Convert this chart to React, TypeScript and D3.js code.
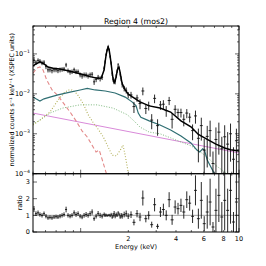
import React, { useEffect, useRef } from 'react'
import * as d3 from 'd3'

// spectrum bins (keV) and data
const energy = [
  0.507, 0.522, 0.538, 0.553, 0.57, 0.587, 0.604, 0.622, 0.64, 0.659, 0.679, 0.699, 0.719, 0.741, 0.763, 0.785, 0.809,
  0.832, 0.857, 0.882, 0.909, 0.935, 0.963, 0.992, 1.021, 1.051, 1.082, 1.114, 1.147, 1.181, 1.216, 1.252, 1.289, 1.327,
  1.366, 1.407, 1.427, 1.448, 1.469, 1.491, 1.513, 1.535, 1.558, 1.581, 1.604, 1.627, 1.651, 1.676, 1.7, 1.725, 1.75,
  1.776, 1.802, 1.829,
  1.883, 1.939, 1.996, 2.08, 2.17, 2.27, 2.37, 2.47, 2.58, 2.69, 2.81, 2.93, 3.06, 3.19, 3.33, 3.47, 3.62, 3.78, 3.95,
  4.12, 4.3, 4.48, 4.68, 4.88, 5.09, 5.31, 5.54, 5.78, 6.03, 6.3, 6.57, 6.85, 7.15, 7.46, 7.79, 8.12, 8.48, 8.84, 9.23,
  9.63,
]
const counts = [
  0.069, 0.062, 0.069, 0.066, 0.06, 0.062, 0.048, 0.04, 0.04, 0.038, 0.04, 0.04, 0.038, 0.04, 0.041, 0.042, 0.053,
  0.038, 0.035, 0.036, 0.04, 0.036, 0.036, 0.03, 0.028, 0.03, 0.03, 0.028, 0.03, 0.031, 0.02, 0.023, 0.026, 0.024,
  0.026, 0.044, 0.063, 0.096, 0.123, 0.15, 0.128, 0.085, 0.059, 0.032, 0.023, 0.021, 0.02, 0.028, 0.037, 0.054, 0.046,
  0.031, 0.024, 0.017,
  0.0137, 0.0123, 0.0094, 0.0094, 0.0048, 0.0079, 0.0057, 0.0118, 0.0043, 0.0051, 0.0022, 0.0077, 0.0016, 0.0053,
  0.0055, 0.0038, 0.0068, 0.0023, 0.0041, 0.0034, 0.0034, 0.0023, 0.0033, 0.0026, 0.0012, 0.0028, 0.00077, 0.0016,
  0.00039, 0.00086, 0.0012, 0.00018, 0.00072, 0.0011, 0.00042, 0.00084, 0.00055, 0.001, 0.00023, 0.00067,
]
const ratio = [
  1.38, 1.1, 1.15, 1.05, 1.0, 1.1, 0.95, 0.85, 0.88, 0.85, 0.9, 0.92, 0.9, 0.95, 1.0, 1.05, 1.35, 1.0, 0.95, 1.0, 1.15,
  1.05, 1.1, 0.95, 0.9, 1.0, 1.05, 1.0, 1.1, 1.2, 0.8, 0.95, 1.1, 1.0,
  0.95, 1.05, 1.0, 1.02, 0.98, 1.0, 1.02, 0.97, 1.05, 0.9, 1.0, 1.1, 0.95, 1.05, 1.0, 1.15, 1.05, 0.9, 1.0, 0.95,
  1.05, 1.1, 0.95, 1.04, 0.58, 1.1, 0.9, 2.04, 0.8, 1.0, 0.44, 1.64, 0.34, 1.2, 1.35, 1.0, 1.94, 0.73, 1.5, 1.4, 1.6,
  1.2, 1.94, 1.73, 0.94, 2.5, 0.8, 1.9, 0.5, 1.2, 1.8, 0.3, 1.3, 2.2, 0.9, 1.9, 1.3, 2.5, 0.6, 1.8,
]
const ratioErr = [
  0.18, 0.14, 0.14, 0.13, 0.13, 0.13, 0.13, 0.12, 0.12, 0.12, 0.12, 0.12, 0.12, 0.13, 0.13, 0.13, 0.17, 0.13, 0.13,
  0.13, 0.15, 0.14, 0.14, 0.13, 0.13, 0.14, 0.15, 0.14, 0.15, 0.16, 0.13, 0.14, 0.16, 0.15,
  0.14, 0.12, 0.1, 0.08, 0.07, 0.06, 0.07, 0.08, 0.1, 0.11, 0.14, 0.16, 0.13, 0.12, 0.1, 0.1, 0.11, 0.11, 0.14, 0.15,
  0.17, 0.19, 0.17, 0.2, 0.18, 0.22, 0.25, 0.45, 0.22, 0.25, 0.18, 0.4, 0.15, 0.3, 0.35, 0.3, 0.45, 0.3, 0.4, 0.35,
  0.4, 0.4, 0.5, 0.45, 0.4, 0.9, 0.6, 1.1, 0.45, 1.0, 1.4, 0.3, 1.3, 1.6, 0.9, 1.8, 1.3, 2.0, 0.6, 1.8,
]

// model curves
const totalE = [
  0.5, 0.522, 0.553, 0.587, 0.622, 0.67, 0.741, 0.857, 0.992, 1.147, 1.27, 1.35, 1.407, 1.427, 1.448, 1.469, 1.491,
  1.513, 1.535, 1.558, 1.581, 1.604, 1.627, 1.651, 1.676, 1.7, 1.725, 1.75, 1.776, 1.802, 1.829, 1.91, 1.996, 2.11,
  2.37, 2.71, 3.17, 3.7, 4.3, 4.97, 5.54, 6.3, 7.15, 8.12, 8.84, 10,
]
const totalV = [
  0.05, 0.056, 0.063, 0.056, 0.047, 0.044, 0.042, 0.037, 0.032, 0.027, 0.0245, 0.025, 0.04, 0.063, 0.094, 0.126, 0.15,
  0.125, 0.088, 0.056, 0.035, 0.023, 0.019, 0.021, 0.027, 0.037, 0.047, 0.044, 0.034, 0.024, 0.018, 0.0125, 0.0099,
  0.0085, 0.0063, 0.005, 0.0044, 0.0035, 0.0021, 0.0015, 0.00096, 0.00072, 0.00055, 0.00044, 0.0004, 0.00037,
]
const tealE = [0.5, 0.522, 0.553, 0.587, 0.64, 0.719, 0.857, 0.992, 1.1, 1.234, 1.43, 1.65, 1.91, 2.11, 2.24, 2.31, 2.4, 2.71, 3.17, 3.7, 4.3, 4.97, 5.42, 5.65, 5.9, 6.05, 6.3, 6.9, 7.2]
const tealV = [0.0083, 0.0075, 0.0066, 0.0075, 0.0083, 0.0094, 0.011, 0.0125, 0.0137, 0.0125, 0.0118, 0.0105, 0.0083, 0.0063, 0.005, 0.0033, 0.0026, 0.0021, 0.00166, 0.00124, 0.00088, 0.00059, 0.00039, 0.00035, 0.00042, 0.00039, 0.00022, 0.00011, 0.00007]
const thermE = [0.5, 0.53, 0.553, 0.578, 0.61, 0.66, 0.72, 0.785, 0.857, 0.935, 1.02, 1.1, 1.18, 1.25, 1.31, 1.37, 1.45, 1.48]
const thermV = [0.033, 0.044, 0.047, 0.04, 0.0223, 0.0125, 0.0089, 0.0056, 0.0035, 0.0021, 0.00118, 0.00083, 0.00052, 0.00035, 0.00039, 0.00022, 0.000104, 0.00008]
const oliveE = [0.5, 0.553, 0.64, 0.72, 0.785, 0.832, 0.882, 0.95, 1.04, 1.11, 1.2, 1.29, 1.39, 1.49, 1.58, 1.68, 1.78, 1.85, 1.91, 2.0, 2.03]
const oliveV = [0.00166, 0.0022, 0.0035, 0.007, 0.0105, 0.0125, 0.0125, 0.0099, 0.0056, 0.0031, 0.0019, 0.0013, 0.00083, 0.00047, 0.00029, 0.00028, 0.00039, 0.00052, 0.00029, 0.000104, 0.00008]
const greenE = [0.5, 0.553, 0.64, 0.77, 0.99, 1.27, 1.6, 1.97, 2.2, 2.37, 2.71, 3.17, 3.7, 4.3, 4.97, 5.6, 6.3, 7.15, 8.12, 10]
const greenV = [0.00175, 0.0022, 0.0033, 0.0044, 0.0053, 0.0053, 0.0044, 0.003, 0.002, 0.00147, 0.0011, 0.001, 0.00079, 0.00062, 0.0005, 0.00037, 0.00026, 0.00016, 0.00011, 0.00008]
const powE = [0.5, 10]
const powV = [0.0033, 0.00033]

const xTickLabels = [2, 4, 6, 8, 10]
const ratioTicks = [0, 1, 2, 3]

export default function App() {
  const svgRef = useRef<SVGSVGElement>(null)

  useEffect(() => {
    const svg = d3.select(svgRef.current)
    svg.selectAll('*').remove()

    const width = 266
    const height = 266
    const left = 33
    const right = 239
    const top = 26
    const mid = 173.7
    const bottom = 232
    const font = 'DejaVu Sans, sans-serif'

    const x = d3.scaleLog().domain([0.5, 10]).range([left, right])
    const y = d3.scaleLog().domain([1e-4, 0.5]).range([mid, top])
    const yr = d3.scaleLinear().domain([0, 3.5]).range([bottom, mid])

    svg.attr('width', width).attr('height', height)
    svg.append('rect').attr('width', width).attr('height', height).attr('fill', '#fff')

    const defs = svg.append('defs')
    defs.append('clipPath').attr('id', 'clipTop').append('rect')
      .attr('x', left).attr('y', top).attr('width', right - left).attr('height', mid - top)
    defs.append('clipPath').attr('id', 'clipBot').append('rect')
      .attr('x', left).attr('y', mid).attr('width', right - left).attr('height', bottom - mid)

    const gTop = svg.append('g').attr('clip-path', 'url(#clipTop)')
    const gBot = svg.append('g').attr('clip-path', 'url(#clipBot)')

    // bin edges from neighbouring energies
    const lo = energy.map((e, i) => i > 0 ? Math.sqrt(e * energy[i - 1]) : e * e / Math.sqrt(e * energy[1]))
    const hi = energy.map((e, i) => i < energy.length - 1 ? Math.sqrt(e * energy[i + 1]) : e * e / Math.sqrt(e * energy[i - 1]))

    const line = (xs: number[], vs: number[]) =>
      d3.line<number>().x((_, i) => x(xs[i])).y((_, i) => y(Math.max(vs[i], 1e-6)))(vs.map((_, i) => i)) as string

    // model components
    gTop.append('path').attr('d', line(powE, powV)).attr('fill', 'none').attr('stroke', '#d98ad9').attr('stroke-width', 1)
    gTop.append('path').attr('d', line(greenE, greenV)).attr('fill', 'none').attr('stroke', '#7fb87f')
      .attr('stroke-width', 1).attr('stroke-dasharray', '1,1.6')
    gTop.append('path').attr('d', line(oliveE, oliveV)).attr('fill', 'none').attr('stroke', '#b0ae55')
      .attr('stroke-width', 1.1).attr('stroke-dasharray', '1,1.8')
    gTop.append('path').attr('d', line(thermE, thermV)).attr('fill', 'none').attr('stroke', '#e38a8a')
      .attr('stroke-width', 1.1).attr('stroke-dasharray', '4,2.5')
    gTop.append('path').attr('d', line(tealE, tealV)).attr('fill', 'none').attr('stroke', '#2f6e72').attr('stroke-width', 1.2)

    // data error bars
    energy.forEach((e, i) => {
      const v = counts[i]
      const rel = ratioErr[i] / ratio[i]
      gTop.append('line').attr('x1', x(lo[i])).attr('x2', x(hi[i])).attr('y1', y(v)).attr('y2', y(v))
        .attr('stroke', '#111').attr('stroke-width', 0.9)
      gTop.append('line').attr('x1', x(e)).attr('x2', x(e))
        .attr('y1', y(Math.max(v * (1 - rel), 1e-6))).attr('y2', y(v * (1 + rel)))
        .attr('stroke', '#111').attr('stroke-width', 0.9)
    })

    gTop.append('path').attr('d', line(totalE, totalV)).attr('fill', 'none').attr('stroke', '#000').attr('stroke-width', 1.5)

    // ratio panel
    gBot.append('line').attr('x1', left).attr('x2', right).attr('y1', yr(1)).attr('y2', yr(1))
      .attr('stroke', '#a0a0a0').attr('stroke-width', 1)
    energy.forEach((e, i) => {
      const r = ratio[i]
      gBot.append('line').attr('x1', x(lo[i])).attr('x2', x(hi[i])).attr('y1', yr(r)).attr('y2', yr(r))
        .attr('stroke', '#111').attr('stroke-width', 0.9)
      gBot.append('line').attr('x1', x(e)).attr('x2', x(e))
        .attr('y1', yr(r - ratioErr[i])).attr('y2', yr(r + ratioErr[i]))
        .attr('stroke', '#111').attr('stroke-width', 0.9)
    })

    // frames
    const axes = svg.append('g')
    ;[[top, mid], [mid, bottom]].forEach(([t, b]) => {
      axes.append('rect').attr('x', left).attr('y', t).attr('width', right - left).attr('height', b - t)
        .attr('fill', 'none').attr('stroke', '#000').attr('stroke-width', 1)
    })

    // x ticks on every horizontal edge, inward
    const xt = x.ticks()
    const isMajor = (v: number) => Math.abs(Math.log10(v) - Math.round(Math.log10(v))) < 1e-6
    ;[[top, 1], [mid, -1], [mid, 1], [bottom, -1]].forEach(([yy, dir]) => {
      xt.forEach(t => {
        const len = isMajor(t) ? 4 : 2
        axes.append('line').attr('x1', x(t)).attr('x2', x(t)).attr('y1', yy).attr('y2', yy + dir * len)
          .attr('stroke', '#000').attr('stroke-width', 0.6)
      })
    })

    // y ticks
    const yt = y.ticks()
    ;[[left, 1], [right, -1]].forEach(([xx, dir]) => {
      yt.forEach(t => {
        const len = isMajor(t) ? 4 : 2
        axes.append('line').attr('x1', xx).attr('x2', xx + dir * len).attr('y1', y(t)).attr('y2', y(t))
          .attr('stroke', '#000').attr('stroke-width', 0.6)
      })
      ratioTicks.forEach(t => {
        axes.append('line').attr('x1', xx).attr('x2', xx + dir * 4).attr('y1', yr(t)).attr('y2', yr(t))
          .attr('stroke', '#000').attr('stroke-width', 0.6)
      })
    })

    // tick labels
    yt.filter(isMajor).forEach(t => {
      const txt = axes.append('text').attr('x', left - 3).attr('y', y(t) + 2.2).attr('text-anchor', 'end')
        .style('font-family', font).style('font-size', '6.5px').attr('fill', '#000')
      txt.append('tspan').text('10')
      txt.append('tspan').attr('dy', -3).style('font-size', '4.6px').text('\u2212' + Math.round(-Math.log10(t)))
    })
    ratioTicks.forEach(t => {
      axes.append('text').attr('x', left - 3).attr('y', yr(t) + 2.3).attr('text-anchor', 'end')
        .style('font-family', font).style('font-size', '6.5px').text(String(t))
    })
    xTickLabels.forEach(t => {
      axes.append('text').attr('x', x(t)).attr('y', bottom + 8.5).attr('text-anchor', 'middle')
        .style('font-family', font).style('font-size', '6.5px').text(String(t))
    })

    // titles
    svg.append('text').attr('x', (left + right) / 2).attr('y', 23.5).attr('text-anchor', 'middle')
      .style('font-family', font).style('font-size', '7.8px').text('Region 4 (mos2)')
    svg.append('text').attr('x', (left + right) / 2).attr('y', 249).attr('text-anchor', 'middle')
      .style('font-family', font).style('font-size', '6.5px').text('Energy (keV)')
    svg.append('text').attr('transform', `translate(13.5, ${(top + mid) / 2}) rotate(-90)`).attr('text-anchor', 'middle')
      .style('font-family', font).style('font-size', '6.3px')
      .text('normalized counts s\u207b\u00b9 keV\u207b\u00b9 (XSPEC units)')
    svg.append('text').attr('transform', `translate(21.5, ${(mid + bottom) / 2}) rotate(-90)`).attr('text-anchor', 'middle')
      .style('font-family', font).style('font-size', '6.5px').text('ratio')
  }, [])

  return <svg ref={svgRef} style={{ position: 'absolute', left: 0, top: 0 }} />
}
